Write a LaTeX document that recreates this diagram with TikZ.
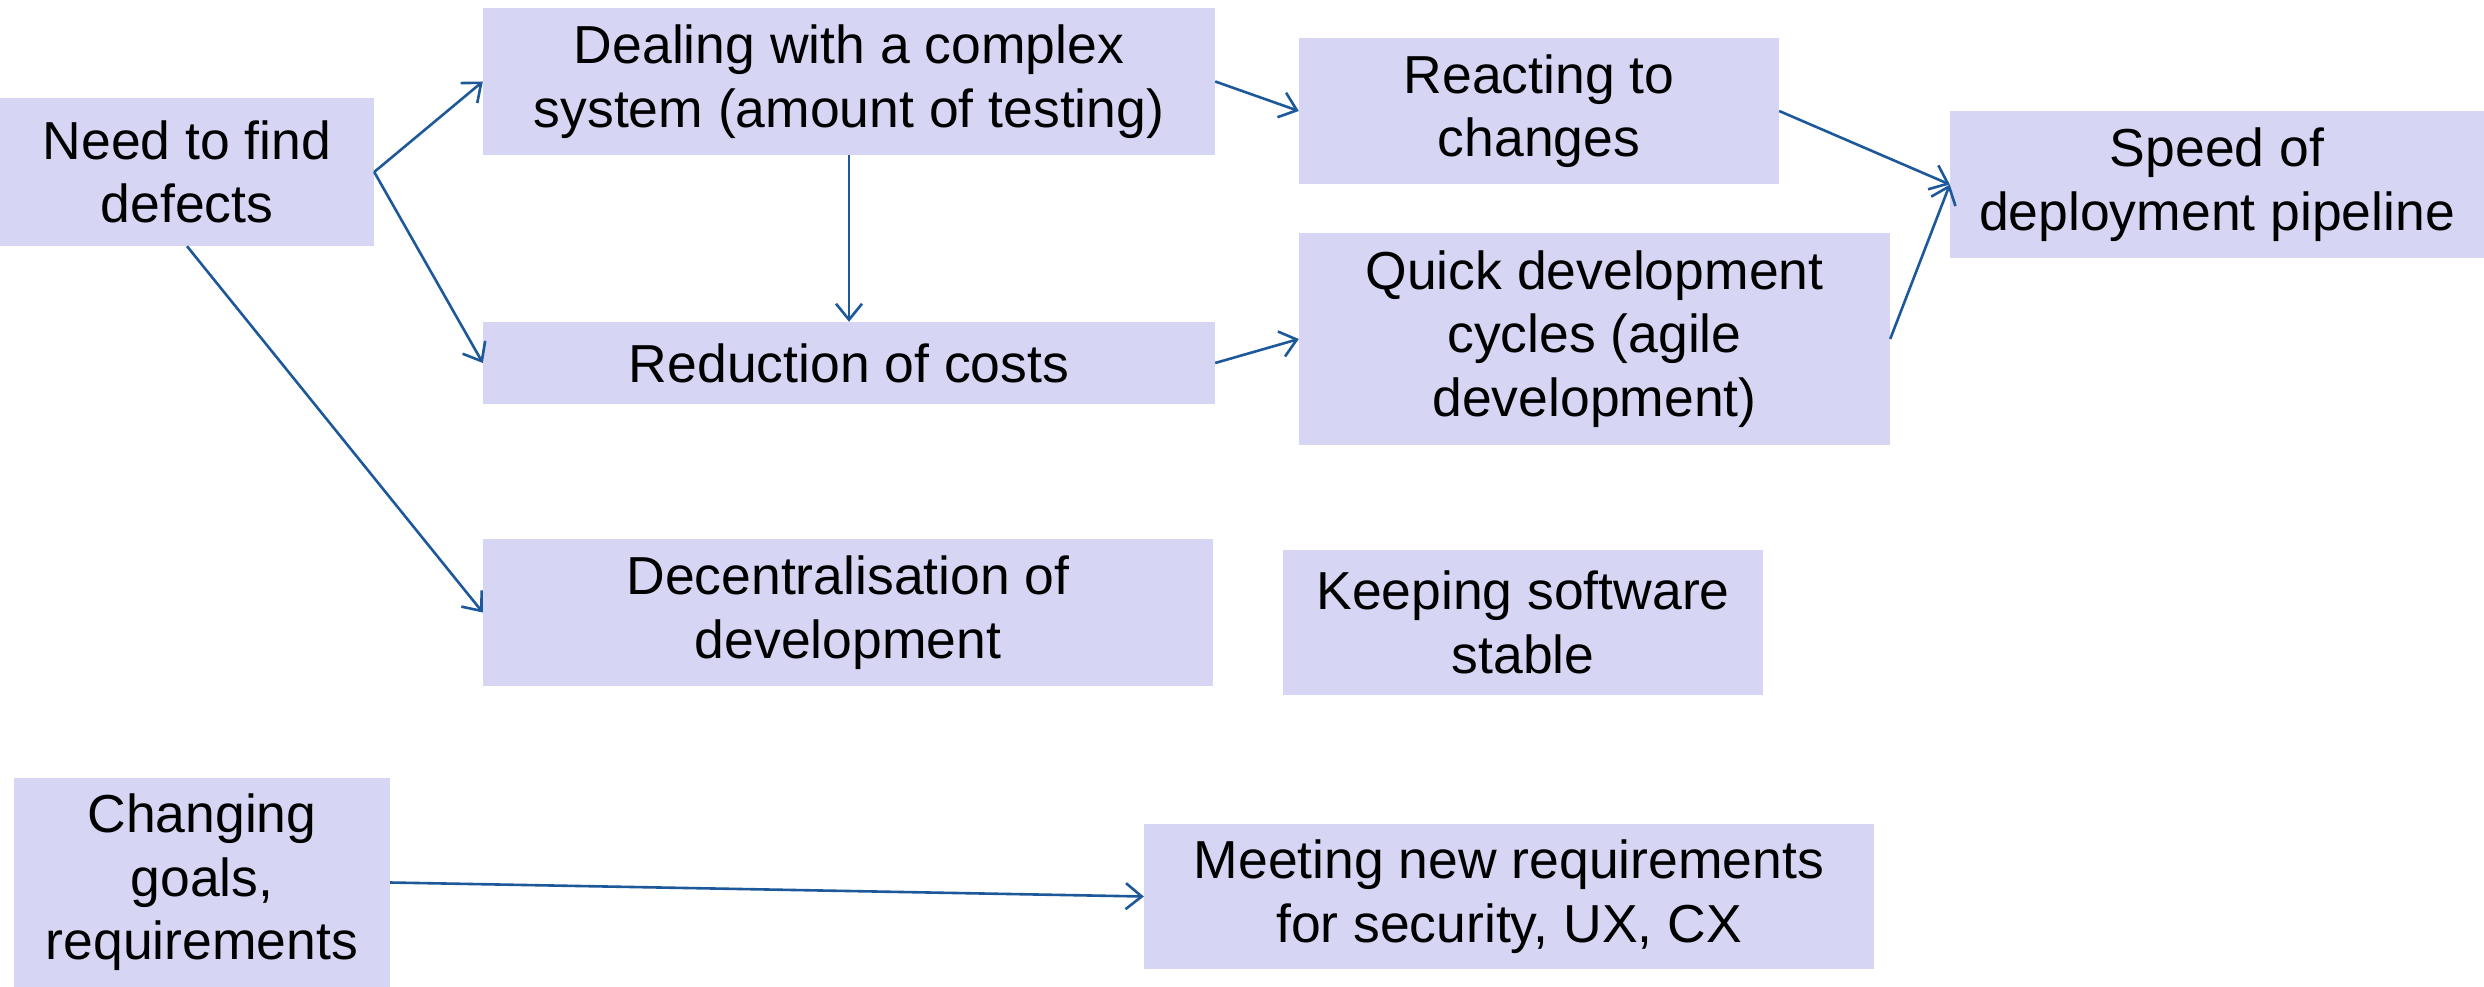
\documentclass[tikz,border=0pt]{standalone}
\usepackage{fontspec}
\setmainfont{Liberation Sans}
\usetikzlibrary{arrows.meta}
\definecolor{boxfill}{RGB}{214,214,244}
\definecolor{arrowblue}{RGB}{28,88,154}
\begin{document}
\begin{tikzpicture}[x=1pt,y=-1pt,
  box/.style n args={2}{fill=boxfill, draw=none, inner sep=0pt, align=center,
    minimum width=#1, minimum height=#2, font=\fontsize{53.5}{63.5}\selectfont},
  conn/.style={draw=arrowblue, line width=2.6pt, -{Straight Barb[length=16pt,width=26pt,line width=2.6pt]}}]
\useasboundingbox (0,0) rectangle (2484,987);
\node[box={374pt}{148pt}] (need) at (187,172) {Need to find\\defects};
\node[box={732pt}{147pt}] (deal) at (849,81.5) {Dealing with a complex\\system (amount of testing)};
\node[box={480pt}{146pt}] (react) at (1539,111) {Reacting to\\changes};
\node[box={534pt}{147pt}] (speed) at (2217,184.5) {Speed of\\deployment pipeline};
\node[box={591pt}{212pt}] (quick) at (1594.5,339) {Quick development\\cycles (agile\\development)};
\node[box={732pt}{82pt}] (red) at (849,363) {Reduction of costs};
\node[box={730pt}{147pt}] (dec) at (848,612.5) {Decentralisation of\\development};
\node[box={480pt}{145pt}] (keep) at (1523,622.5) {Keeping software\\stable};
\node[box={376pt}{209pt}] (chg) at (202,882.5) {Changing\\goals,\\requirements};
\node[box={730pt}{145pt}] (meet) at (1509,896.5) {Meeting new requirements\\for security, UX, CX};
\draw[conn] (need.east) -- (deal.west);
\draw[conn] (need.east) -- (red.west);
\draw[conn] (need.south) -- (dec.west);
\draw[conn] (deal.south) -- (red.north);
\draw[conn] (deal.east) -- (react.west);
\draw[conn] (red.east) -- (quick.west);
\draw[conn] (react.east) -- (speed.west);
\draw[conn] (quick.east) -- (speed.west);
\draw[conn] (chg.east) -- (meet.west);
\end{tikzpicture}
\end{document}
